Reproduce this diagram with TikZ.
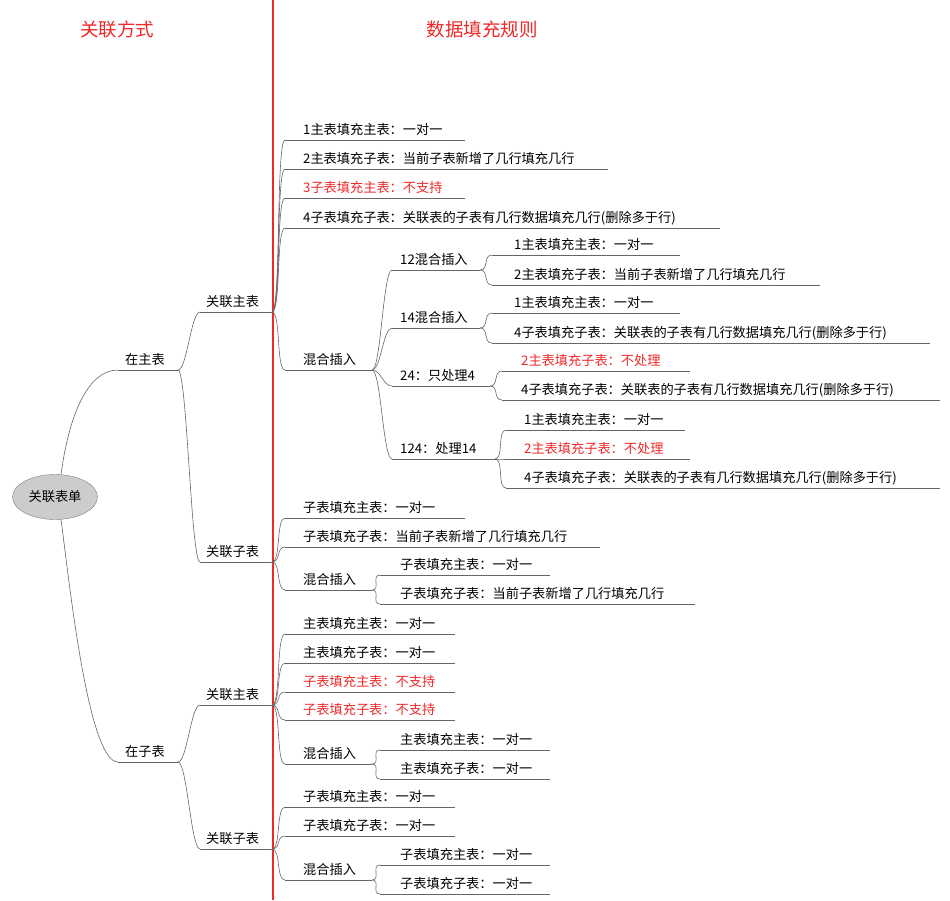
\documentclass[tikz,border=0pt]{standalone}
\usepackage{fontspec}
\setmainfont{Noto Sans CJK SC}
\usetikzlibrary{shapes.geometric}
\definecolor{alertred}{RGB}{240,40,40}
\tikzset{
  ul/.style = {draw = gray!80!black, line width = 0.6pt},
  conn/.style = {draw = gray!80!black, line width = 0.6pt},
  leaftext/.style = {anchor = base west, inner sep = 0pt, font = \fontsize{13.2}{15}\selectfont},
}
% \leaf{name}{line start}{text x}{line end}{line y}{colour}{text}
\newcommand\leaf[7]{
  \coordinate (#1-s) at (#2,#5);
  \coordinate (#1-e) at (#4,#5);
  \draw[ul] (#1-s) -- (#1-e);
  \node[leaftext, text = #6] (#1) at (#3,#5-6) {#7};
}
\newcommand\link[2]{\draw[conn] (#1-e) .. controls +(9,0) and +(-9,0) .. (#2-s);}
\begin{document}
\begin{tikzpicture}[x = 1pt, y = -1pt]
\useasboundingbox (0,0) rectangle (950,900);
\draw[alertred, line width = 2.4pt] (273,0) -- (273,900);
\node[text = alertred, font = \fontsize{18.5}{20}\selectfont] (hleft) at (117,29) {关联方式};
\node[text = alertred, font = \fontsize{18.5}{20}\selectfont] (hright) at (482,29) {数据填充规则};
\node[ellipse, draw = gray, fill = gray!40, minimum width = 85pt, minimum height = 45pt, inner sep = 1pt, font = \fontsize{13.2}{15}\selectfont] (root) at (55,497) {关联表单};
% level 1
\leaf{zhu}{118}{125}{178}{370}{black}{在主表}
\leaf{zi}{118}{125}{178}{762}{black}{在子表}
\draw[conn] (root.75) .. controls +(8,-60) and +(-30,0) .. (zhu-s);
\draw[conn] (root.-75) .. controls +(8,60) and +(-30,0) .. (zi-s);
% level 2
\leaf{zz}{200}{206}{272}{312}{black}{关联主表}
\leaf{zc}{200}{206}{272}{562}{black}{关联子表}
\leaf{cz}{200}{206}{272}{705}{black}{关联主表}
\leaf{cc}{200}{206}{272}{849}{black}{关联子表}
\link{zhu}{zz} \link{zhu}{zc} \link{zi}{cz} \link{zi}{cc}
% 在主表 / 关联主表
\leaf{a1}{285}{303}{465}{140}{black}{1主表填充主表：一对一}
\leaf{a2}{285}{303}{608}{169}{black}{2主表填充子表：当前子表新增了几行填充几行}
\leaf{a3}{285}{303}{465}{198}{alertred}{3子表填充主表：不支持}
\leaf{a4}{285}{303}{720}{228}{black}{4子表填充子表：关联表的子表有几行数据填充几行(删除多于行)}
\leaf{am}{285}{303}{372}{370}{black}{混合插入}
\foreach \n in {a1,a2,a3,a4,am} {\link{zz}{\n}}
\leaf{b1}{392}{400}{480}{270}{black}{12混合插入}
\leaf{b2}{392}{400}{480}{328}{black}{14混合插入}
\leaf{b3}{392}{400}{490}{386}{black}{24：只处理4}
\leaf{b4}{392}{400}{495}{459}{black}{124：处理14}
\foreach \n in {b1,b2,b3,b4} {\link{am}{\n}}
\leaf{c1}{492}{514}{680}{255}{black}{1主表填充主表：一对一}
\leaf{c2}{492}{514}{820}{285}{black}{2主表填充子表：当前子表新增了几行填充几行}
\link{b1}{c1} \link{b1}{c2}
\leaf{d1}{492}{514}{680}{313}{black}{1主表填充主表：一对一}
\leaf{d2}{492}{514}{930}{343}{black}{4子表填充子表：关联表的子表有几行数据填充几行(删除多于行)}
\link{b2}{d1} \link{b2}{d2}
\leaf{e1}{502}{521}{690}{371}{alertred}{2主表填充子表：不处理}
\leaf{e2}{502}{521}{940}{400}{black}{4子表填充子表：关联表的子表有几行数据填充几行(删除多于行)}
\link{b3}{e1} \link{b3}{e2}
\leaf{f1}{506}{524}{685}{430}{black}{1主表填充主表：一对一}
\leaf{f2}{506}{524}{690}{459}{alertred}{2主表填充子表：不处理}
\leaf{f3}{506}{524}{940}{488}{black}{4子表填充子表：关联表的子表有几行数据填充几行(删除多于行)}
\link{b4}{f1} \link{b4}{f2} \link{b4}{f3}
% 在主表 / 关联子表
\leaf{g1}{285}{303}{465}{518}{black}{子表填充主表：一对一}
\leaf{g2}{285}{303}{600}{547}{black}{子表填充子表：当前子表新增了几行填充几行}
\leaf{gm}{285}{303}{372}{590}{black}{混合插入}
\foreach \n in {g1,g2,gm} {\link{zc}{\n}}
\leaf{h1}{380}{400}{550}{575}{black}{子表填充主表：一对一}
\leaf{h2}{380}{400}{695}{604}{black}{子表填充子表：当前子表新增了几行填充几行}
\link{gm}{h1} \link{gm}{h2}
% 在子表 / 关联主表
\leaf{i1}{285}{303}{455}{634}{black}{主表填充主表：一对一}
\leaf{i2}{285}{303}{455}{663}{black}{主表填充子表：一对一}
\leaf{i3}{285}{303}{455}{692}{alertred}{子表填充主表：不支持}
\leaf{i4}{285}{303}{455}{720}{alertred}{子表填充子表：不支持}
\leaf{im}{285}{303}{372}{764}{black}{混合插入}
\foreach \n in {i1,i2,i3,i4,im} {\link{cz}{\n}}
\leaf{j1}{380}{400}{550}{750}{black}{主表填充主表：一对一}
\leaf{j2}{380}{400}{550}{779}{black}{主表填充子表：一对一}
\link{im}{j1} \link{im}{j2}
% 在子表 / 关联子表
\leaf{k1}{285}{303}{455}{807}{black}{子表填充主表：一对一}
\leaf{k2}{285}{303}{455}{836}{black}{子表填充子表：一对一}
\leaf{km}{285}{303}{372}{880}{black}{混合插入}
\foreach \n in {k1,k2,km} {\link{cc}{\n}}
\leaf{l1}{380}{400}{550}{865}{black}{子表填充主表：一对一}
\leaf{l2}{380}{400}{550}{894}{black}{子表填充子表：一对一}
\link{km}{l1} \link{km}{l2}
\end{tikzpicture}
\end{document}
